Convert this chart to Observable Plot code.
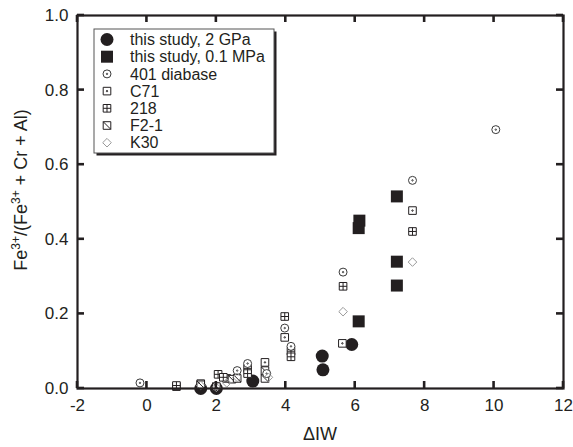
<!DOCTYPE html>
<html>
<head>
<meta charset="utf-8">
<script src="https://cdn.jsdelivr.net/npm/d3@7"></script>
<script src="https://cdn.jsdelivr.net/npm/@observablehq/plot@0.6"></script>
<style>
  html, body { margin: 0; padding: 0; background: white; }
  #chart { width: 573px; height: 447px; }
</style>
</head>
<body>
<div id="chart"></div>
<script>
// ---- data (ΔIW, Fe3+/(Fe3+ + Cr + Al)) ----
const study2GPa = [[1.55, 0.0], [2.0, 0.0], [3.05, 0.02], [5.05, 0.087], [5.07, 0.05], [5.9, 0.118]];
const study01MPa = [[6.1, 0.18], [6.1, 0.43], [6.12, 0.45], [7.2, 0.515], [7.2, 0.34], [7.2, 0.276]];
const diabase401 = [[-0.2, 0.015], [2.6, 0.048], [2.9, 0.067], [3.45, 0.04], [3.97, 0.162], [4.15, 0.113], [5.65, 0.312], [7.65, 0.558], [10.05, 0.694]];
const c71 = [[0.85, 0.005], [1.55, 0.013], [2.3, 0.027], [3.4, 0.07], [3.97, 0.137], [5.63, 0.121], [7.65, 0.477]];
const s218 = [[0.85, 0.008], [2.05, 0.038], [2.2, 0.03], [2.9, 0.054], [2.9, 0.04], [3.97, 0.193], [4.15, 0.1], [4.15, 0.085], [5.65, 0.274], [7.65, 0.421]];
const f21 = [[1.55, 0.01], [2.0, 0.005], [2.45, 0.025], [2.6, 0.027], [3.4, 0.048], [3.4, 0.027]];
const k30 = [[1.55, 0.008], [2.0, 0.003], [2.3, 0.015], [2.6, 0.03], [3.5, 0.03], [5.65, 0.206], [7.65, 0.339]];

const seriesNames = ["this study, 2 GPa", "this study, 0.1 MPa", "401 diabase", "C71", "218", "F2-1", "K30"];
const xTicks = [-2, 0, 2, 4, 6, 8, 10, 12];
const yTicks = [0, 0.2, 0.4, 0.6, 0.8, 1.0];

// ---- custom symbols ----
const INK = "#231f20";
const half = size => Math.sqrt(size / Math.PI);
const symSquare = { draw(c, size) { const h = half(size); c.moveTo(-h, -h); c.lineTo(h, -h); c.lineTo(h, h); c.lineTo(-h, h); c.closePath(); } };
const symSquareDot = { draw(c, size) { symSquare.draw(c, size); c.moveTo(0.7, 0); c.arc(0, 0, 0.7, 0, 2 * Math.PI); } };
const symSquarePlus = { draw(c, size) { const h = half(size); symSquare.draw(c, size); c.moveTo(-h, 0); c.lineTo(h, 0); c.moveTo(0, -h); c.lineTo(0, h); } };
const symSquareDiag = { draw(c, size) { const h = half(size); symSquare.draw(c, size); c.moveTo(-h, -h); c.lineTo(h, h); } };
const symCircleDot = { draw(c, size) { const h = half(size); c.moveTo(h, 0); c.arc(0, 0, h, 0, 2 * Math.PI); c.moveTo(0.7, 0); c.arc(0, 0, 0.7, 0, 2 * Math.PI); } };
const symDiamond = { draw(c, size) { const h = half(size); c.moveTo(0, -h); c.lineTo(h, 0); c.lineTo(0, h); c.lineTo(-h, 0); c.closePath(); } };
const symDisc = { draw(c, size) { const h = half(size); c.moveTo(h, 0); c.arc(0, 0, h, 0, 2 * Math.PI); } };

// drawing order (filled first, open symbols on top)
const styles = [
  { name: seriesNames[0], data: study2GPa, symbol: symDisc, r: 6.5, fill: INK, stroke: "none", sw: 0, leg: 0 },
  { name: seriesNames[1], data: study01MPa, symbol: symSquare, r: 6, fill: INK, stroke: "none", sw: 0, leg: 1 },
  { name: seriesNames[3], data: c71, symbol: symSquareDot, r: 3.8, fill: "white", stroke: INK, sw: 1, leg: 3 },
  { name: seriesNames[4], data: s218, symbol: symSquarePlus, r: 3.8, fill: "white", stroke: INK, sw: 1, leg: 4 },
  { name: seriesNames[5], data: f21, symbol: symSquareDiag, r: 3.8, fill: "white", stroke: INK, sw: 1, leg: 5 },
  { name: seriesNames[2], data: diabase401, symbol: symCircleDot, r: 4, fill: "white", stroke: "#3a3a3a", sw: 1, leg: 2 },
  { name: seriesNames[6], data: k30, symbol: symDiamond, r: 4.3, fill: "none", stroke: "#9a9a9a", sw: 1, leg: 6 }
];

const FONT = "'Liberation Sans', Arial, Helvetica, sans-serif";
const W = 573, H = 447, ML = 77, MR = 10, MT = 15, MB = 59;
const TL = 7;

const chart = Plot.plot({
  width: W,
  height: H,
  marginLeft: ML,
  marginRight: MR,
  marginTop: MT,
  marginBottom: MB,
  x: { domain: [-2, 12] },
  y: { domain: [0, 1] },
  style: { fontFamily: FONT, fontSize: "17px", color: INK, background: "white" },
  marks: [
    ...styles.map(s => Plot.dot(s.data, {
      x: d => d[0], y: d => d[1], r: s.r, symbol: s.symbol,
      fill: s.fill, stroke: s.stroke, strokeWidth: s.sw
    })),
    Plot.axisX(xTicks, { anchor: "bottom", tickSize: 0, tickPadding: 10, tickFormat: d => String(d), label: null, fill: INK }),
    Plot.axisY(yTicks, { anchor: "left", tickSize: 0, tickPadding: 9, tickFormat: d3.format(".1f"), label: null, fill: INK }),
    Plot.frame({ stroke: INK, strokeWidth: 2.2 })
  ]
});

document.getElementById("chart").appendChild(chart);

// ---- inward tick marks on all four sides, placed with the plot's scales ----
const svg = d3.select(chart);
const xs = chart.scale("x"), ys = chart.scale("y");
const x0 = ML, x1 = W - MR, y0 = MT, y1 = H - MB;
const tg = svg.append("g");
function tick(xa, ya, xb, yb) {
  tg.append("path").attr("d", `M${xa},${ya}L${xb},${yb}`)
    .attr("fill", "none").attr("stroke", INK).attr("stroke-width", 2.6);
}
xTicks.forEach(t => {
  const px = xs.apply(t);
  tick(px, y1, px, y1 - TL);
  tick(px, y0, px, y0 + TL);
});
yTicks.forEach(t => {
  const py = ys.apply(t);
  tick(x0, py, x0 + TL, py);
  tick(x1, py, x1 - TL, py);
});

// ---- titles and legend ----
svg.append("text")
  .attr("x", 320).attr("y", 440)
  .attr("text-anchor", "middle")
  .attr("font-family", FONT).attr("font-size", 18).attr("fill", INK)
  .text("\u0394IW");

const yt = svg.append("text")
  .attr("transform", "translate(27,190) rotate(-90)")
  .attr("text-anchor", "middle")
  .attr("font-family", FONT).attr("font-size", 18).attr("fill", INK);
yt.append("tspan").text("Fe");
yt.append("tspan").attr("dy", -7).attr("font-size", 12).text("3+");
yt.append("tspan").attr("dy", 7).text("/(Fe");
yt.append("tspan").attr("dy", -7).attr("font-size", 12).text("3+");
yt.append("tspan").attr("dy", 7).text(" + Cr + Al)");

const lg = svg.append("g");
const bx = 94, by = 29, bw = 180, bh = 124;
lg.append("rect").attr("x", bx + 2.5).attr("y", by + 2.5).attr("width", bw).attr("height", bh).attr("fill", INK);
lg.append("rect").attr("x", bx).attr("y", by).attr("width", bw).attr("height", bh)
  .attr("fill", "white").attr("stroke", "#555").attr("stroke-width", 1);
styles.forEach(s => {
  const cy = 39.5 + s.leg * 17.2;
  const p = d3.path();
  s.symbol.draw(p, s.r * s.r * Math.PI);
  lg.append("path").attr("d", p.toString())
    .attr("transform", `translate(107,${cy})`)
    .attr("fill", s.fill).attr("stroke", s.stroke).attr("stroke-width", s.sw);
  lg.append("text").attr("x", 130).attr("y", cy).attr("dy", "0.35em")
    .attr("text-anchor", "start")
    .attr("font-family", FONT).attr("font-size", 16).attr("fill", INK)
    .text(s.name);
});
</script>
</body>
</html>
